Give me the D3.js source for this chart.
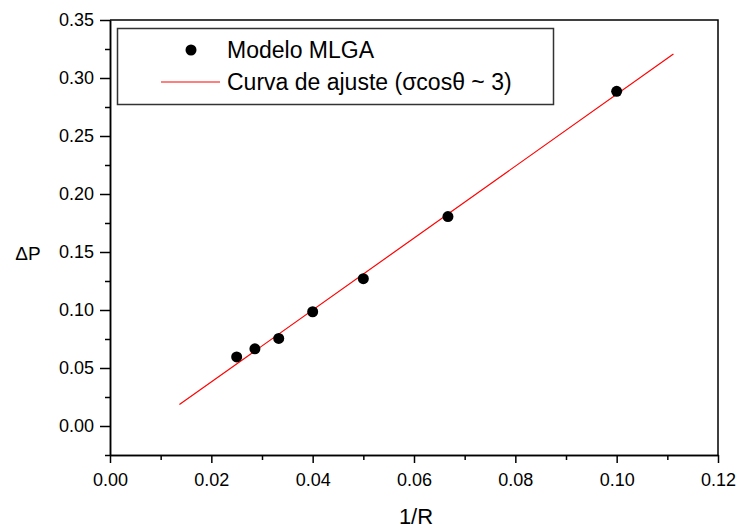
<!DOCTYPE html>
<html>
<head>
<meta charset="utf-8">
<script src="https://cdn.jsdelivr.net/npm/d3@7"></script>
<style>
  body { margin: 0; background: #fff; }
  text { font-family: "Liberation Sans", Arial, sans-serif; }
</style>
</head>
<body>
<svg id="viz"></svg>
<script>
var width = 739, height = 530;

// model points (1/R, dP)
var invR = [0.025, 0.0286, 0.0333, 0.04, 0.05, 0.0667, 0.1];
var deltaP = [0.0595, 0.0665, 0.0755, 0.0985, 0.127, 0.1805, 0.2885];

// fitted curve ends (sigma cos theta ~ 3)
var fitX = [0.0137, 0.1112];
var fitY = [0.0185, 0.3207];

var xTicks = [0, 0.02, 0.04, 0.06, 0.08, 0.10, 0.12];
var xMinor = [0.01, 0.03, 0.05, 0.07, 0.09, 0.11];
var yTicks = [0, 0.05, 0.10, 0.15, 0.20, 0.25, 0.30, 0.35];
var yMinor = [-0.025, 0.025, 0.075, 0.125, 0.175, 0.225, 0.275, 0.325];

var mLeft = 110, mRight = 718, mTop = 20, mBottom = 455;

var x = d3.scaleLinear().domain([0, 0.12]).range([mLeft, mRight]);
var y = d3.scaleLinear().domain([-0.025, 0.35]).range([mBottom, mTop]);

var svg = d3.select("#viz").attr("width", width).attr("height", height);

// frame top + right
svg.append("path")
    .attr("d", "M" + mLeft + "," + mTop + "H" + mRight + "V" + mBottom)
    .attr("fill", "none")
    .attr("stroke", "#000")
    .attr("stroke-width", 1.5);

function styleAxis(g) {
  g.select(".domain").attr("stroke-width", 1.5);
  g.selectAll(".tick line").attr("stroke-width", 1.5);
  g.selectAll("text").style("font-size", "18px").attr("fill", "#000");
}

svg.append("g")
    .attr("transform", "translate(0," + mBottom + ")")
    .call(d3.axisBottom(x).tickValues(xTicks).tickFormat(d3.format(".2f"))
      .tickSize(8).tickSizeOuter(0).tickPadding(10))
    .call(styleAxis);

svg.append("g")
    .attr("transform", "translate(0," + mBottom + ")")
    .call(d3.axisBottom(x).tickValues(xMinor).tickFormat("").tickSize(5).tickSizeOuter(0))
    .call(styleAxis);

svg.append("g")
    .attr("transform", "translate(" + mLeft + ",0)")
    .call(d3.axisLeft(y).tickValues(yTicks).tickFormat(d3.format(".2f"))
      .tickSize(10).tickSizeOuter(0).tickPadding(6))
    .call(styleAxis);

svg.append("g")
    .attr("transform", "translate(" + mLeft + ",0)")
    .call(d3.axisLeft(y).tickValues(yMinor).tickFormat("").tickSize(5).tickSizeOuter(0))
    .call(styleAxis);

// axis titles
svg.append("text")
    .attr("x", 416).attr("y", 524)
    .attr("text-anchor", "middle")
    .style("font-size", "22px")
    .text("1/R");

svg.append("text")
    .attr("x", 28).attr("y", 260)
    .attr("text-anchor", "middle")
    .style("font-size", "19px")
    .text("\u0394P");

// fit line
var line = d3.line()
    .x(function(d) { return x(d[0]); })
    .y(function(d) { return y(d[1]); });

svg.append("path")
    .datum(d3.zip(fitX, fitY))
    .attr("d", line)
    .attr("fill", "none")
    .attr("stroke", "#ff0000")
    .attr("stroke-width", 1.2);

// points
svg.append("g").selectAll("circle")
    .data(d3.zip(invR, deltaP))
    .enter()
    .append("circle")
    .attr("cx", function(d) { return x(d[0]); })
    .attr("cy", function(d) { return y(d[1]); })
    .attr("r", 5.5)
    .attr("fill", "#000");

// legend
var legend = svg.append("g");
legend.append("rect")
    .attr("x", 117.5).attr("y", 28.5)
    .attr("width", 436).attr("height", 76)
    .attr("fill", "#fff")
    .attr("stroke", "#333")
    .attr("stroke-width", 1.5);

legend.append("circle")
    .attr("cx", 191).attr("cy", 50).attr("r", 5.5).attr("fill", "#000");

legend.append("text")
    .attr("x", 227).attr("y", 58)
    .style("font-size", "23px")
    .text("Modelo MLGA");

legend.append("line")
    .attr("x1", 161).attr("x2", 220)
    .attr("y1", 82).attr("y2", 82)
    .attr("stroke", "#ff0000")
    .attr("stroke-width", 1.2);

legend.append("text")
    .attr("x", 227).attr("y", 90)
    .style("font-size", "23px")
    .text("Curva de ajuste (\u03c3cos\u03b8 ~ 3)");
</script>
</body>
</html>
